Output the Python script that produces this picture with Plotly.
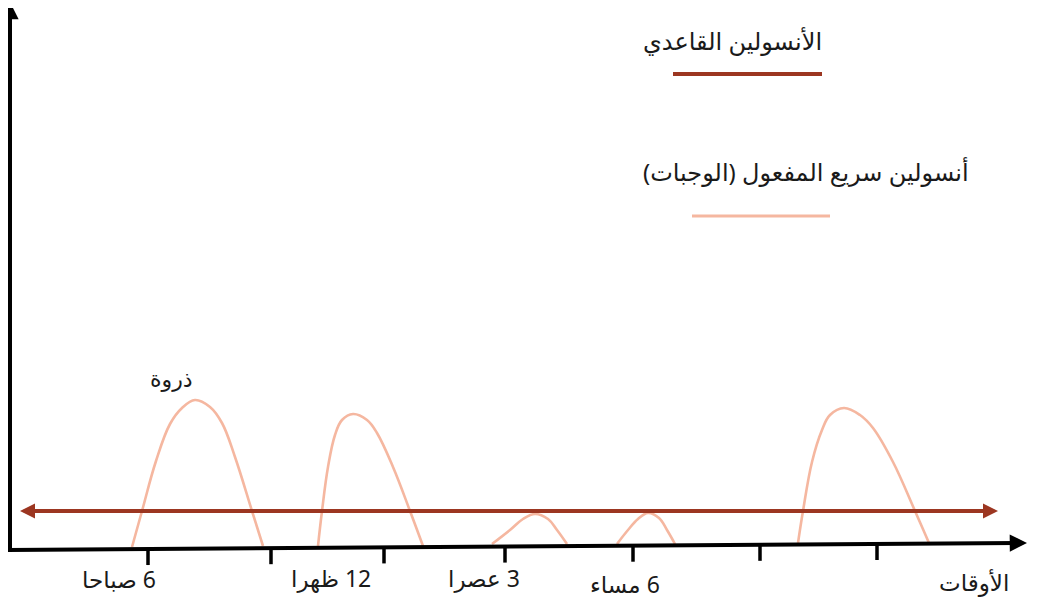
import plotly.graph_objects as go

# ---- schematic data (drawing units = picture units, y grows downward) ----
tick_x = [148, 271, 384, 505, 633, 760, 877]
tick_labels = ["6 صباحا", "12 ظهرا", "3 عصرا", "6 مساء"]
tick_label_x = [119, 331, 484, 625]
tick_label_y = [579, 578, 578, 584]

basal_x = [20, 998]
basal_level = 511

hump1_x = [132, 142, 156, 170, 182, 195, 210, 222, 235, 252, 263]
hump1_y = [547, 511, 461, 424, 408, 400, 407, 423, 457, 511, 546]
hump2_x = [318, 322, 328, 335, 342, 353, 367, 377, 393, 410, 423]
hump2_y = [546, 511, 467, 435, 420, 414, 420, 433, 467, 511, 546]
hump3_x = [492, 510, 523, 535, 548, 557, 567]
hump3_y = [544, 530, 519, 514, 519, 530, 544]
hump4_x = [617, 628, 638, 648, 659, 667, 675]
hump4_y = [544, 530, 519, 513, 518, 530, 544]
hump5_x = [798, 803, 812, 822, 830, 844, 860, 873, 893, 915, 929]
hump5_y = [543, 511, 462, 430, 415, 408, 415, 428, 462, 511, 543]
humps = [(hump1_x, hump1_y), (hump2_x, hump2_y), (hump3_x, hump3_y),
         (hump4_x, hump4_y), (hump5_x, hump5_y)]

legend_names = ["الأنسولين القاعدي", "أنسولين سريع المفعول (الوجبات)"]

BASAL = "#9C3621"
FAST = "#F5B7A0"
BLACK = "#000000"
TEXT = "#1A1A1A"
FONT = "Noto Sans, DejaVu Sans, sans-serif"
RLM = "\u200f"

# axis geometry
x_axis_start = (8, 550)
x_axis_tip = (1027, 543)
y_axis_tip = (10, 2)
tick_len = 16

# page body has an 8px margin; plot area is offset accordingly
PAGE_OFF = 8


def axis_y_at(x):
    (x0, y0), (x1, y1) = x_axis_start, x_axis_tip
    return y0 + (y1 - y0) * (x - x0) / (x1 - x0)


fig = go.Figure()

# rapid insulin humps
for hx, hy in humps:
    fig.add_trace(go.Scatter(x=hx, y=hy, mode="lines",
                             line=dict(color=FAST, width=2.6, shape="spline", smoothing=1.1),
                             hoverinfo="skip", showlegend=False))

# basal line
fig.add_trace(go.Scatter(x=[basal_x[0] + 12, basal_x[1] - 12], y=[basal_level, basal_level],
                         mode="lines", line=dict(color=BASAL, width=4),
                         hoverinfo="skip", showlegend=False))

# axes lines
fig.add_trace(go.Scatter(x=[x_axis_start[0], x_axis_tip[0] - 10],
                         y=[x_axis_start[1], axis_y_at(x_axis_tip[0] - 10)],
                         mode="lines", line=dict(color=BLACK, width=4),
                         hoverinfo="skip", showlegend=False))
fig.add_trace(go.Scatter(x=[y_axis_tip[0], y_axis_tip[0]],
                         y=[x_axis_start[1] + 2, y_axis_tip[1] + 10],
                         mode="lines", line=dict(color=BLACK, width=4),
                         hoverinfo="skip", showlegend=False))

# ticks
tx, ty = [], []
for t in tick_x:
    y0 = axis_y_at(t)
    tx += [t, t, None]
    ty += [y0, y0 + tick_len, None]
fig.add_trace(go.Scatter(x=tx, y=ty, mode="lines", line=dict(color=BLACK, width=3.5),
                         hoverinfo="skip", showlegend=False))

# legend lines
fig.add_trace(go.Scatter(x=[673, 822], y=[74, 74], mode="lines",
                         line=dict(color=BASAL, width=4), hoverinfo="skip", showlegend=False))
fig.add_trace(go.Scatter(x=[692, 830], y=[216, 216], mode="lines",
                         line=dict(color=FAST, width=3), hoverinfo="skip", showlegend=False))

annotations = []


def arrow(tip, tail, color, width, size):
    annotations.append(dict(x=tip[0], y=tip[1], ax=tail[0], ay=tail[1],
                            xref="x", yref="y", axref="x", ayref="y",
                            showarrow=True, arrowhead=2, arrowcolor=color,
                            arrowwidth=width, arrowsize=size, text=""))


arrow(x_axis_tip, (x_axis_tip[0] - 14, axis_y_at(x_axis_tip[0] - 14)), BLACK, 3, 1.15)
arrow(y_axis_tip, (y_axis_tip[0], y_axis_tip[1] + 14), BLACK, 3, 1.15)
arrow((basal_x[0], basal_level), (basal_x[0] + 12, basal_level), BASAL, 4, 0.75)
arrow((basal_x[1], basal_level), (basal_x[1] - 12, basal_level), BASAL, 4, 0.75)


def label(text, x, y, size=23):
    annotations.append(dict(x=x, y=y, xref="x", yref="y", text=RLM + text + RLM,
                            showarrow=False, xanchor="center", yanchor="middle",
                            font=dict(family=FONT, size=size, color=TEXT)))


for t, lx, ly in zip(tick_labels, tick_label_x, tick_label_y):
    label(t, lx, ly)
label("الأوقات", 974, 582)
label("ذروة", 171, 378, 22)
label(legend_names[0], 732, 40, 24)
label(legend_names[1], 806, 171, 24)

fig.update_layout(
    width=1044 - PAGE_OFF, height=603 - PAGE_OFF,
    margin=dict(l=0, r=0, t=0, b=0),
    paper_bgcolor="white", plot_bgcolor="white",
    xaxis=dict(range=[PAGE_OFF, 1044], visible=False, fixedrange=True),
    yaxis=dict(range=[603, PAGE_OFF], visible=False, fixedrange=True),
    annotations=annotations,
    showlegend=False,
)

fig.write_html("out.html")
